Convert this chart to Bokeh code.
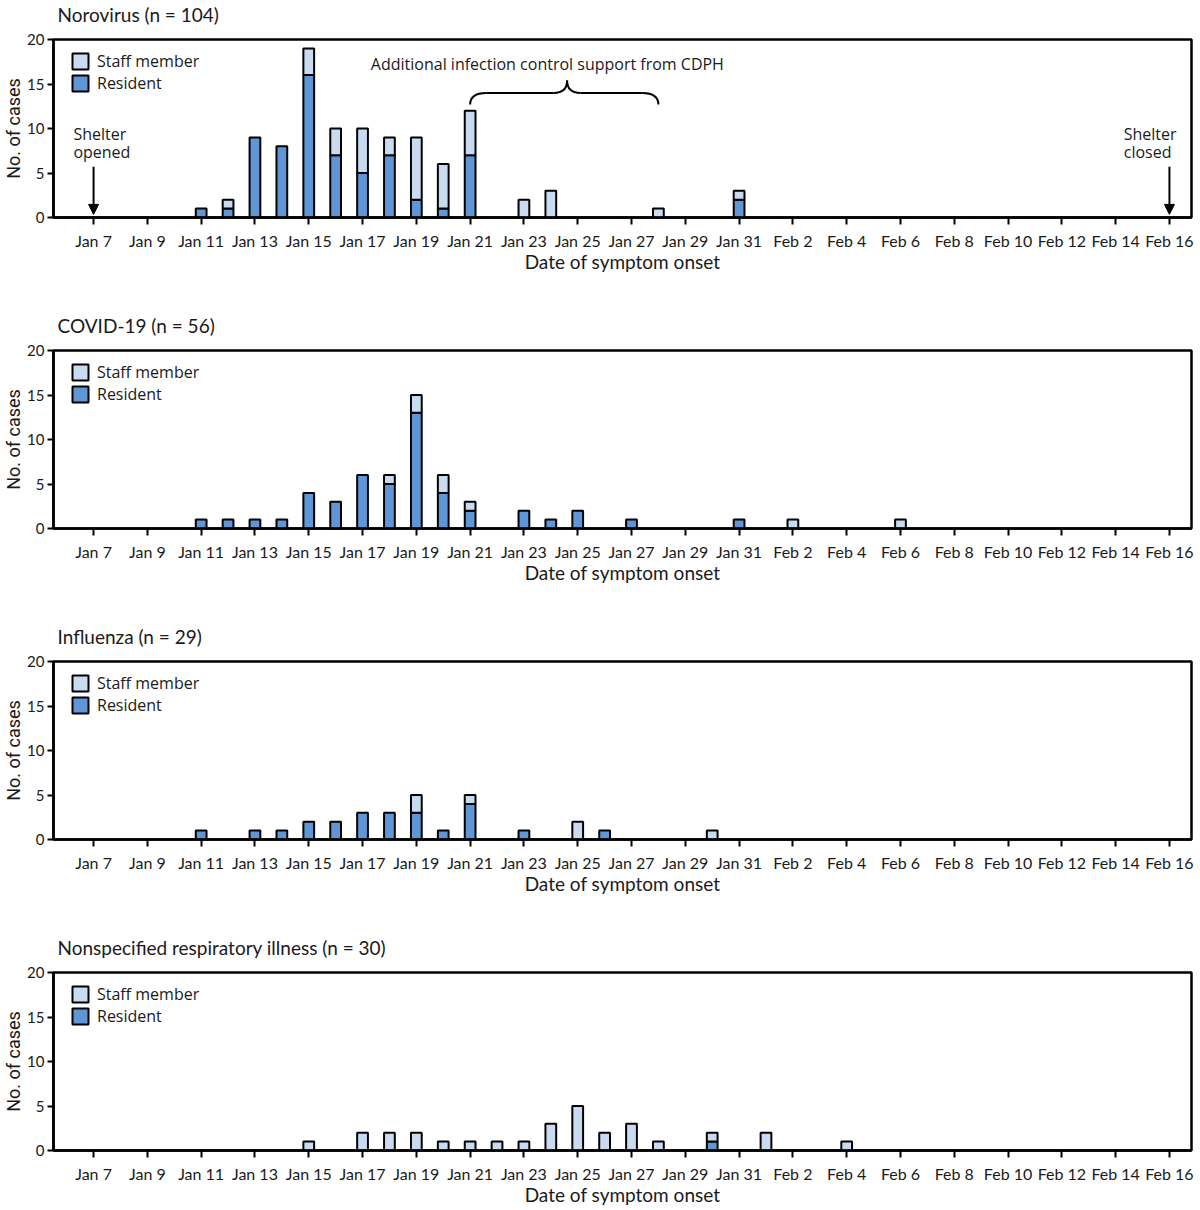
import pandas as pd
from bokeh.plotting import figure
from bokeh.layouts import column
from bokeh.models import (ColumnDataSource, FixedTicker, Legend, LegendItem,
                          Arrow, NormalHead, Range1d, Title)
from bokeh.core.properties import value
from bokeh.embed import file_html
from bokeh.resources import INLINE

# ---------------- data ----------------
YEAR = 2023
START = "Jan 7"
tick_labels = ["Jan 7", "Jan 9", "Jan 11", "Jan 13", "Jan 15", "Jan 17", "Jan 19",
               "Jan 21", "Jan 23", "Jan 25", "Jan 27", "Jan 29", "Jan 31", "Feb 2",
               "Feb 4", "Feb 6", "Feb 8", "Feb 10", "Feb 12", "Feb 14", "Feb 16"]

noro_title = "Norovirus (n = 104)"
noro_dates = ["Jan 11", "Jan 12", "Jan 13", "Jan 14", "Jan 15", "Jan 16", "Jan 17", "Jan 18",
              "Jan 19", "Jan 20", "Jan 21", "Jan 23", "Jan 24", "Jan 28", "Jan 31"]
noro_resident = [1, 1, 9, 8, 16, 7, 5, 7, 2, 1, 7, 0, 0, 0, 2]
noro_staff = [0, 1, 0, 0, 3, 3, 5, 2, 7, 5, 5, 2, 3, 1, 1]

covid_title = "COVID-19 (n = 56)"
covid_dates = ["Jan 11", "Jan 12", "Jan 13", "Jan 14", "Jan 15", "Jan 16", "Jan 17", "Jan 18",
               "Jan 19", "Jan 20", "Jan 21", "Jan 23", "Jan 24", "Jan 25", "Jan 27", "Jan 31",
               "Feb 2", "Feb 6"]
covid_resident = [1, 1, 1, 1, 4, 3, 6, 5, 13, 4, 2, 2, 1, 2, 1, 1, 0, 0]
covid_staff = [0, 0, 0, 0, 0, 0, 0, 1, 2, 2, 1, 0, 0, 0, 0, 0, 1, 1]

flu_title = "Influenza (n = 29)"
flu_dates = ["Jan 11", "Jan 13", "Jan 14", "Jan 15", "Jan 16", "Jan 17", "Jan 18", "Jan 19",
             "Jan 20", "Jan 21", "Jan 23", "Jan 25", "Jan 26", "Jan 30"]
flu_resident = [1, 1, 1, 2, 2, 3, 3, 3, 1, 4, 1, 0, 1, 0]
flu_staff = [0, 0, 0, 0, 0, 0, 0, 2, 0, 1, 0, 2, 0, 1]

nsri_title = "Nonspecified respiratory illness (n = 30)"
nsri_dates = ["Jan 15", "Jan 17", "Jan 18", "Jan 19", "Jan 20", "Jan 21", "Jan 22", "Jan 23",
              "Jan 24", "Jan 25", "Jan 26", "Jan 27", "Jan 28", "Jan 30", "Feb 1", "Feb 4"]
nsri_resident = [0, 0, 0, 0, 0, 0, 0, 0, 0, 0, 0, 0, 0, 1, 0, 0]
nsri_staff = [1, 2, 2, 2, 1, 1, 1, 1, 3, 5, 2, 3, 1, 1, 2, 1]

series_names = ["Staff member", "Resident"]
shelter_opened = "Jan 7"
shelter_closed = "Feb 16"
support_start = "Jan 21"
support_end = "Jan 28"
support_text = "Additional infection control  support from CDPH"

# ---------------- style ----------------
RES_COLOR = "#5f96d6"
STAFF_COLOR = "#c9dbf1"
TXT = "#1a1a1a"
FRAME_W, FRAME_H = 1138, 178


def day(s):
    t = pd.to_datetime(f"{s} {YEAR}", format="%b %d %Y")
    t0 = pd.to_datetime(f"{START} {YEAR}", format="%b %d %Y")
    return (t - t0).days


def panel(title, dates, res, staff, last=False):
    df = pd.DataFrame({"date": dates, "res": res, "staff": staff})
    df["x"] = df["date"].map(day)
    df["total"] = df["res"] + df["staff"]
    rs = ColumnDataSource(df[df["res"] > 0])
    ss = ColumnDataSource(df[df["staff"] > 0])

    p = figure(frame_width=FRAME_W, frame_height=FRAME_H,
               x_range=Range1d(-1.49, 40.82), y_range=Range1d(0, 20),
               output_backend="svg", toolbar_location=None,
               min_border_left=52, min_border_right=8, min_border_top=39,
               min_border_bottom=(0 if last else 94))
    p.background_fill_color = "white"
    p.border_fill_color = "white"
    p.outline_line_color = "black"
    p.outline_line_width = 2.5
    p.grid.visible = False

    # spacer between the title and the frame, then the title itself
    p.add_layout(Title(text=" ", text_font_size="1px", standoff=9), "above")
    p.add_layout(Title(text=title, text_font="Lato", text_font_size="19px",
                       text_font_style="normal", text_color=TXT, align="left",
                       vertical_align="top", offset=4, standoff=0), "above")

    r_res = p.vbar(x="x", top="res", bottom=0, width=0.4, source=rs,
                   fill_color=RES_COLOR, line_color="black", line_width=2)
    r_staff = p.vbar(x="x", top="total", bottom="res", width=0.4, source=ss,
                     fill_color=STAFF_COLOR, line_color="black", line_width=2)

    leg = Legend(items=[LegendItem(label=series_names[0], renderers=[r_staff]),
                        LegendItem(label=series_names[1], renderers=[r_res])],
                 location=(17, FRAME_H - 11 - 44), glyph_width=20, glyph_height=20,
                 label_text_font="Open Sans", label_text_font_size="16px",
                 label_text_color=TXT, label_standoff=7, spacing=0,
                 padding=0, margin=0, label_height=18,
                 background_fill_alpha=0, border_line_color=None)
    p.add_layout(leg)

    xa = p.xaxis[0]
    ya = p.yaxis[0]
    xa.ticker = FixedTicker(ticks=list(range(0, 41, 2)))
    xa.major_label_overrides = {i * 2: lab for i, lab in enumerate(tick_labels)}
    ya.ticker = FixedTicker(ticks=[0, 5, 10, 15, 20])
    for ax in (xa, ya):
        ax.axis_line_width = 2.5
        ax.axis_line_color = "black"
        ax.major_tick_line_width = 2
        ax.major_tick_line_color = "black"
        ax.major_tick_in = 0
        ax.minor_tick_line_color = None
        ax.major_label_text_color = TXT
        ax.axis_label_text_color = TXT
        ax.axis_label_text_font_style = "normal"
    xa.major_tick_out = 7
    ya.major_tick_out = 6
    xa.major_label_standoff = 6
    ya.major_label_standoff = 3
    xa.major_label_text_font = "Lato"
    xa.major_label_text_font_size = "16px"
    ya.major_label_text_font = "Lato"
    ya.major_label_text_font_size = "15px"
    xa.axis_label = "Date of symptom onset"
    xa.axis_label_text_font = "Lato"
    xa.axis_label_text_font_size = "19px"
    xa.axis_label_standoff = -3
    ya.axis_label = "No. of cases"
    ya.axis_label_text_font = "Roboto"
    ya.axis_label_text_font_size = "18px"
    ya.axis_label_standoff = 0
    return p


p1 = panel(noro_title, noro_dates, noro_resident, noro_staff)
p2 = panel(covid_title, covid_dates, covid_resident, covid_staff)
p3 = panel(flu_title, flu_dates, flu_resident, flu_staff)
p4 = panel(nsri_title, nsri_dates, nsri_resident, nsri_staff, last=True)

# ---------------- annotations on norovirus panel ----------------
xo = day(shelter_opened)
xc = day(shelter_closed)
head = dict(size=10, fill_color="black", line_color="black", line_width=1)
p1.add_layout(Arrow(end=NormalHead(**head), x_start=xo, y_start=5.7, x_end=xo, y_end=0.35,
                    line_width=2, line_color="black"))
p1.add_layout(Arrow(end=NormalHead(**head), x_start=xc, y_start=5.7, x_end=xc, y_end=0.35,
                    line_width=2, line_color="black"))
p1.text(x=[xo - 0.75, xc - 1.7], y=[10.63, 10.63], text=["Shelter\nopened", "Shelter\nclosed"],
        text_font=value("Open Sans"), text_font_size="16px", text_color=TXT,
        text_align="left", text_baseline="top", text_line_height=0.83)

# curly brace over the support period
b0 = day(support_start)
b1 = day(support_end)
bm = b0 + 0.515 * (b1 - b0)
y_end, y_mid, y_peak, r = 12.7, 14.0, 15.4, 0.6
p1.quadratic(x0=[b0, bm - 0.5, bm, b1 - r], y0=[y_end, y_mid, y_peak, y_mid],
             x1=[b0 + r, bm, bm + 0.5, b1], y1=[y_mid, y_peak, y_mid, y_end],
             cx=[b0, bm, bm, b1], cy=[y_mid, y_mid, y_mid, y_mid],
             line_color="black", line_width=2)
p1.segment(x0=[b0 + r, bm + 0.5], y0=[y_mid, y_mid], x1=[bm - 0.5, b1 - r], y1=[y_mid, y_mid],
           line_color="black", line_width=2)
p1.text(x=[(b0 + b1) / 2 - 0.55], y=[17.3], text=[support_text],
        text_font=value("Open Sans"), text_font_size="16px", text_color=TXT,
        text_align="center", text_baseline="middle")

layout = column(p1, p2, p3, p4, spacing=0)
open("out.html", "w").write(file_html(layout, INLINE))
